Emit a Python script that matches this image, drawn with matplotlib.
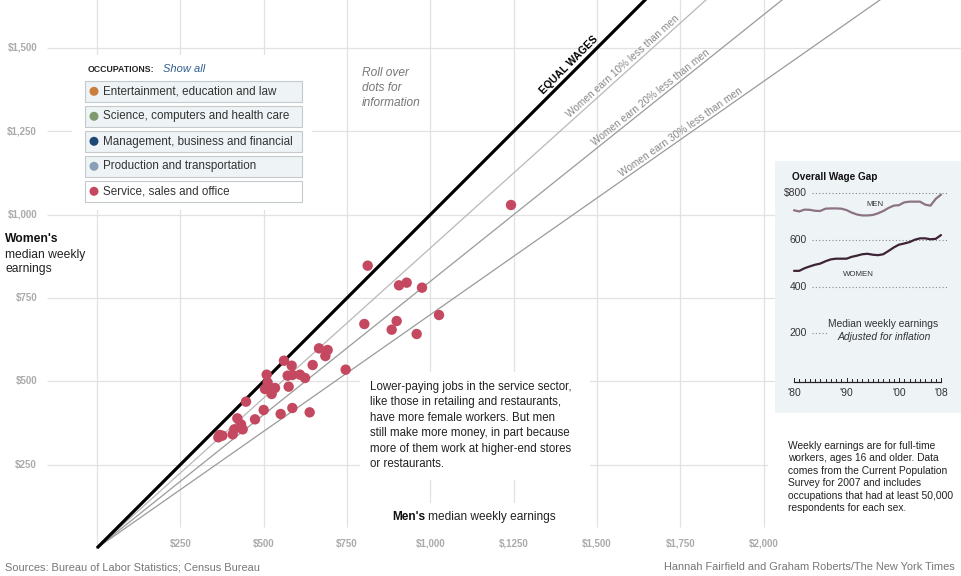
import math
import matplotlib
matplotlib.use("Agg")
import matplotlib.pyplot as plt
from matplotlib.patches import Rectangle

plt.rcParams['font.family'] = ['Liberation Sans', 'DejaVu Sans']

# ---------------- data ----------------
men_earn = [666, 692, 685, 561, 584, 647, 746, 509, 572, 586, 609, 624, 512, 504,
            534, 575, 524, 447, 500, 551, 586, 638, 474, 421, 432, 437, 412, 407,
            368, 364, 376, 1242, 812, 906, 929, 975, 802, 899, 884, 1026, 959]
women_earn = [599, 594, 576, 562, 547, 549, 535, 520, 517, 519, 520, 510, 496, 477,
              480, 484, 462, 439, 414, 402, 420, 407, 386, 389, 371, 356, 356, 341,
              339, 332, 337, 1029, 847, 788, 796, 781, 672, 681, 655, 699, 642]

x_ticks = [250, 500, 750, 1000, 1250, 1500, 1750, 2000]
x_tick_labels = ["$250", "$500", "$750", "$1,000", "$,1250", "$1,500", "$1,750", "$2,000"]
y_ticks = [250, 500, 750, 1000, 1250, 1500]
y_tick_labels = ["$250", "$500", "$750", "$1,000", "$1,250", "$1,500"]

ratio_lines = [0.9, 0.8, 0.7]
ratio_labels = ["Women earn 10% less than men", "Women earn 20% less than men",
                "Women earn 30% less than men"]

categories = ["Entertainment, education and law", "Science, computers and health care",
              "Management, business and financial", "Production and transportation",
              "Service, sales and office"]
cat_colors = ["#c97f3c", "#7f9a6d", "#1e4775", "#8aa0b6", "#c4485f"]

years = list(range(1980, 2009))
men_trend = [726, 721, 729, 728, 724, 723, 733, 734, 734, 733, 727, 716, 708, 704, 704,
             706, 713, 723, 736, 746, 748, 760, 763, 763, 763, 750, 746, 775, 793]
women_trend = [467, 467, 478, 486, 493, 498, 508, 516, 519, 519, 519, 527, 532, 538, 540,
               536, 534, 538, 552, 567, 579, 584, 590, 600, 606, 606, 602, 604, 620]
inset_y = [800, 600, 400, 200]
inset_y_labels = ["$800", "600", "400", "200"]
inset_x = [1980, 1990, 2000, 2008]
inset_x_labels = ["'80", "'90", "'00", "'08"]

# ---------------- figure ----------------
W, H = 962, 576
fig = plt.figure(figsize=(W / 100, H / 100), dpi=100)
fig.patch.set_facecolor("white")


def P(px, py):
    return px / W, 1 - py / H


# main axes: 3 dollars per pixel, origin at pixel (97, 548)
ax = fig.add_axes([0, 0, 1, 1])
ax.set_xlim((0 - 97) * 3, (W - 97) * 3)
ax.set_ylim((548 - H) * 3, 548 * 3)
ax.axis("off")

grid_c = "#e2e2e2"
ax.hlines(y_ticks, -150, 2600, color=grid_c, lw=0.9, zorder=1)
ax.vlines(x_ticks, 63, 1650, color=grid_c, lw=0.9, zorder=1)
ax.vlines([0], 0, 1650, color=grid_c, lw=0.9, zorder=1)

for v, lab in zip(y_ticks, y_tick_labels):
    ax.text(-180, v, lab, ha="right", va="center", fontsize=7, fontweight="bold",
            color="#aaaaaa")
for v, lab in zip(x_ticks, x_tick_labels):
    ax.text(v, 12, lab, ha="center", va="center", fontsize=7, fontweight="bold",
            color="#aaaaaa")

xmax = 2700
ax.plot([0, xmax], [0, xmax], color="black", lw=2.3, zorder=3, solid_capstyle="butt")
line_cols = ["#b8b8b8", "#9a9a9a", "#9a9a9a"]
for k, c in zip(ratio_lines, line_cols):
    ax.plot([0, xmax], [0, k * xmax], color=c, lw=0.9, zorder=2)


def line_label(k, x0, text, d, **kw):
    th = math.degrees(math.atan(k))
    r = math.radians(th)
    ax.annotate(text, xy=(x0, k * x0), xytext=(-math.sin(r) * d, math.cos(r) * d),
                textcoords="offset points", rotation=th, rotation_mode="anchor",
                ha="center", va="baseline", **kw)


line_label(1.0, 1432, "EQUAL WAGES", 3.2, fontsize=7.5, fontweight="bold", color="black")
for k, x0, lab in zip(ratio_lines, [1590, 1672, 1760], ratio_labels):
    line_label(k, x0, lab, 2.0, fontsize=7.3, color="#888888")

ax.scatter(men_earn, women_earn, s=56, color=cat_colors[4], edgecolors="none", zorder=5)

# overlay in pixel coordinates
pix = fig.add_axes([0, 0, 1, 1])
pix.set_xlim(0, W)
pix.set_ylim(H, 0)
pix.axis("off")
pix.patch.set_alpha(0)


def rect(x0, y0, x1, y1, fc, ec="none", lw=0):
    pix.add_patch(Rectangle((x0, y0), x1 - x0, y1 - y0, facecolor=fc, edgecolor=ec, lw=lw))


# white knockouts
rect(72, 55, 312, 210, "white")
rect(360, 372, 590, 480, "white")
rect(385, 503, 565, 531, "white")
rect(768, 418, 962, 522, "white")

# legend
fig.text(*P(88, 69), "OCCUPATIONS:", fontsize=6.3, fontweight="bold", color="#222222",
         ha="left", va="center")
fig.text(*P(163, 69), "Show all", fontsize=8, style="italic", color="#2f5f8f",
         ha="left", va="center")
for i, (cat, col) in enumerate(zip(categories, cat_colors)):
    y0 = 81 + 25 * i
    fc = "white" if i == 4 else "#eef3f6"
    rect(85.5, y0, 302, y0 + 20.5, fc, ec="#c6c9cc", lw=0.8)
    pix.scatter([94], [y0 + 10.3], s=42, color=col, edgecolors="none", zorder=5)
    fig.text(*P(103, y0 + 10.5), cat, fontsize=8.4, color="#333333", ha="left",
             va="center")

fig.text(*P(362, 88), "Roll over\ndots for\ninformation", fontsize=8.6, style="italic",
         color="#777777", ha="left", va="center", linespacing=1.3)

fig.text(*P(5, 239), "Women's", fontsize=8.7, fontweight="bold", color="#111111",
         ha="left", va="center")
fig.text(*P(5, 262), "median weekly\nearnings", fontsize=8.7, color="#222222",
         ha="left", va="center", linespacing=1.28)

fig.text(*P(370, 425.5), "Lower-paying jobs in the service sector,\nlike those in retailing and restaurants,\n"
         "have more female workers. But men\nstill make more money, in part because\n"
         "more of them work at higher-end stores\nor restaurants.",
         fontsize=8.3, color="#222222", ha="left", va="center", linespacing=1.39)

t1 = fig.text(*P(392, 517), "Men's", fontsize=8.6, fontweight="bold", color="#111111",
              ha="left", va="center")
fig.canvas.draw()
bb = t1.get_window_extent()
fig.text(bb.x1 / W + 3 / W, 1 - 517 / H, "median weekly earnings", fontsize=8.6,
         color="#222222", ha="left", va="center")

fig.text(*P(5, 567), "Sources: Bureau of Labor Statistics; Census Bureau", fontsize=7.9,
         color="#777777", ha="left", va="center")
fig.text(*P(955, 567), "Hannah Fairfield and Graham Roberts/The New York Times",
         fontsize=7.9, color="#777777", ha="right", va="center")

fig.text(*P(788, 477), "Weekly earnings are for full-time\nworkers, ages 16 and older. Data\n"
         "comes from the Current Population\nSurvey for 2007 and includes\n"
         "occupations that had at least 50,000\nrespondents for each sex.",
         fontsize=7.4, color="#222222", ha="left", va="center", linespacing=1.32)

# inset
rect(775, 161, 962, 413, "#eef3f6")
ins = fig.add_axes([794 / W, (H - 380) / H, (941 - 794) / W, (380 - 193) / H])
ins.set_xlim(1980, 2008)
ins.set_ylim(0, 800)
ins.axis("off")
ins.patch.set_alpha(0)

pxyr = (941 - 794) / 28.0
x_from = 1980 + (812 - 794) / pxyr
x_to = 1980 + (948 - 794) / pxyr
x_short = 1980 + (827 - 794) / pxyr
for v in inset_y:
    ins.plot([x_from, x_short if v == 200 else x_to], [v, v], color="#888888", lw=0.8,
             linestyle=(0, (1, 2)), clip_on=False)
for v, lab in zip(inset_y, inset_y_labels):
    ins.text(1980 + (807 - 794) / pxyr, v, lab, ha="right", va="center", fontsize=7.5,
             color="#333333", clip_on=False)

ins.plot(years, men_trend, color="#8c7383", lw=1.6, clip_on=False, solid_capstyle="round")
ins.plot(years, women_trend, color="#3c2335", lw=1.6, clip_on=False, solid_capstyle="round")

ins.plot([1980, 2008], [-7, -7], color="#222222", lw=0.9, clip_on=False)
for yr in years:
    ins.plot([yr, yr], [-7, 10 if yr in inset_x else 6], color="#222222", lw=0.7,
             clip_on=False)
for yr, lab in zip(inset_x, inset_x_labels):
    ins.text(yr, -56, lab, ha="center", va="center", fontsize=7.5, color="#333333",
             clip_on=False)

fig.text(*P(792, 177), "Overall Wage Gap", fontsize=7.2, fontweight="bold", color="#111111",
         ha="left", va="center")
fig.text(*P(875, 205), "MEN", fontsize=5.6, color="#333333", ha="center", va="center")
fig.text(*P(858, 274), "WOMEN", fontsize=5.7, color="#333333", ha="center", va="center")
fig.text(*P(883, 324), "Median weekly earnings", fontsize=7.4, color="#333333",
         ha="center", va="center")
fig.text(*P(884, 337), "Adjusted for inflation", fontsize=7.4, style="italic",
         color="#333333", ha="center", va="center")

fig.savefig("out.png", dpi=100, facecolor="white")
